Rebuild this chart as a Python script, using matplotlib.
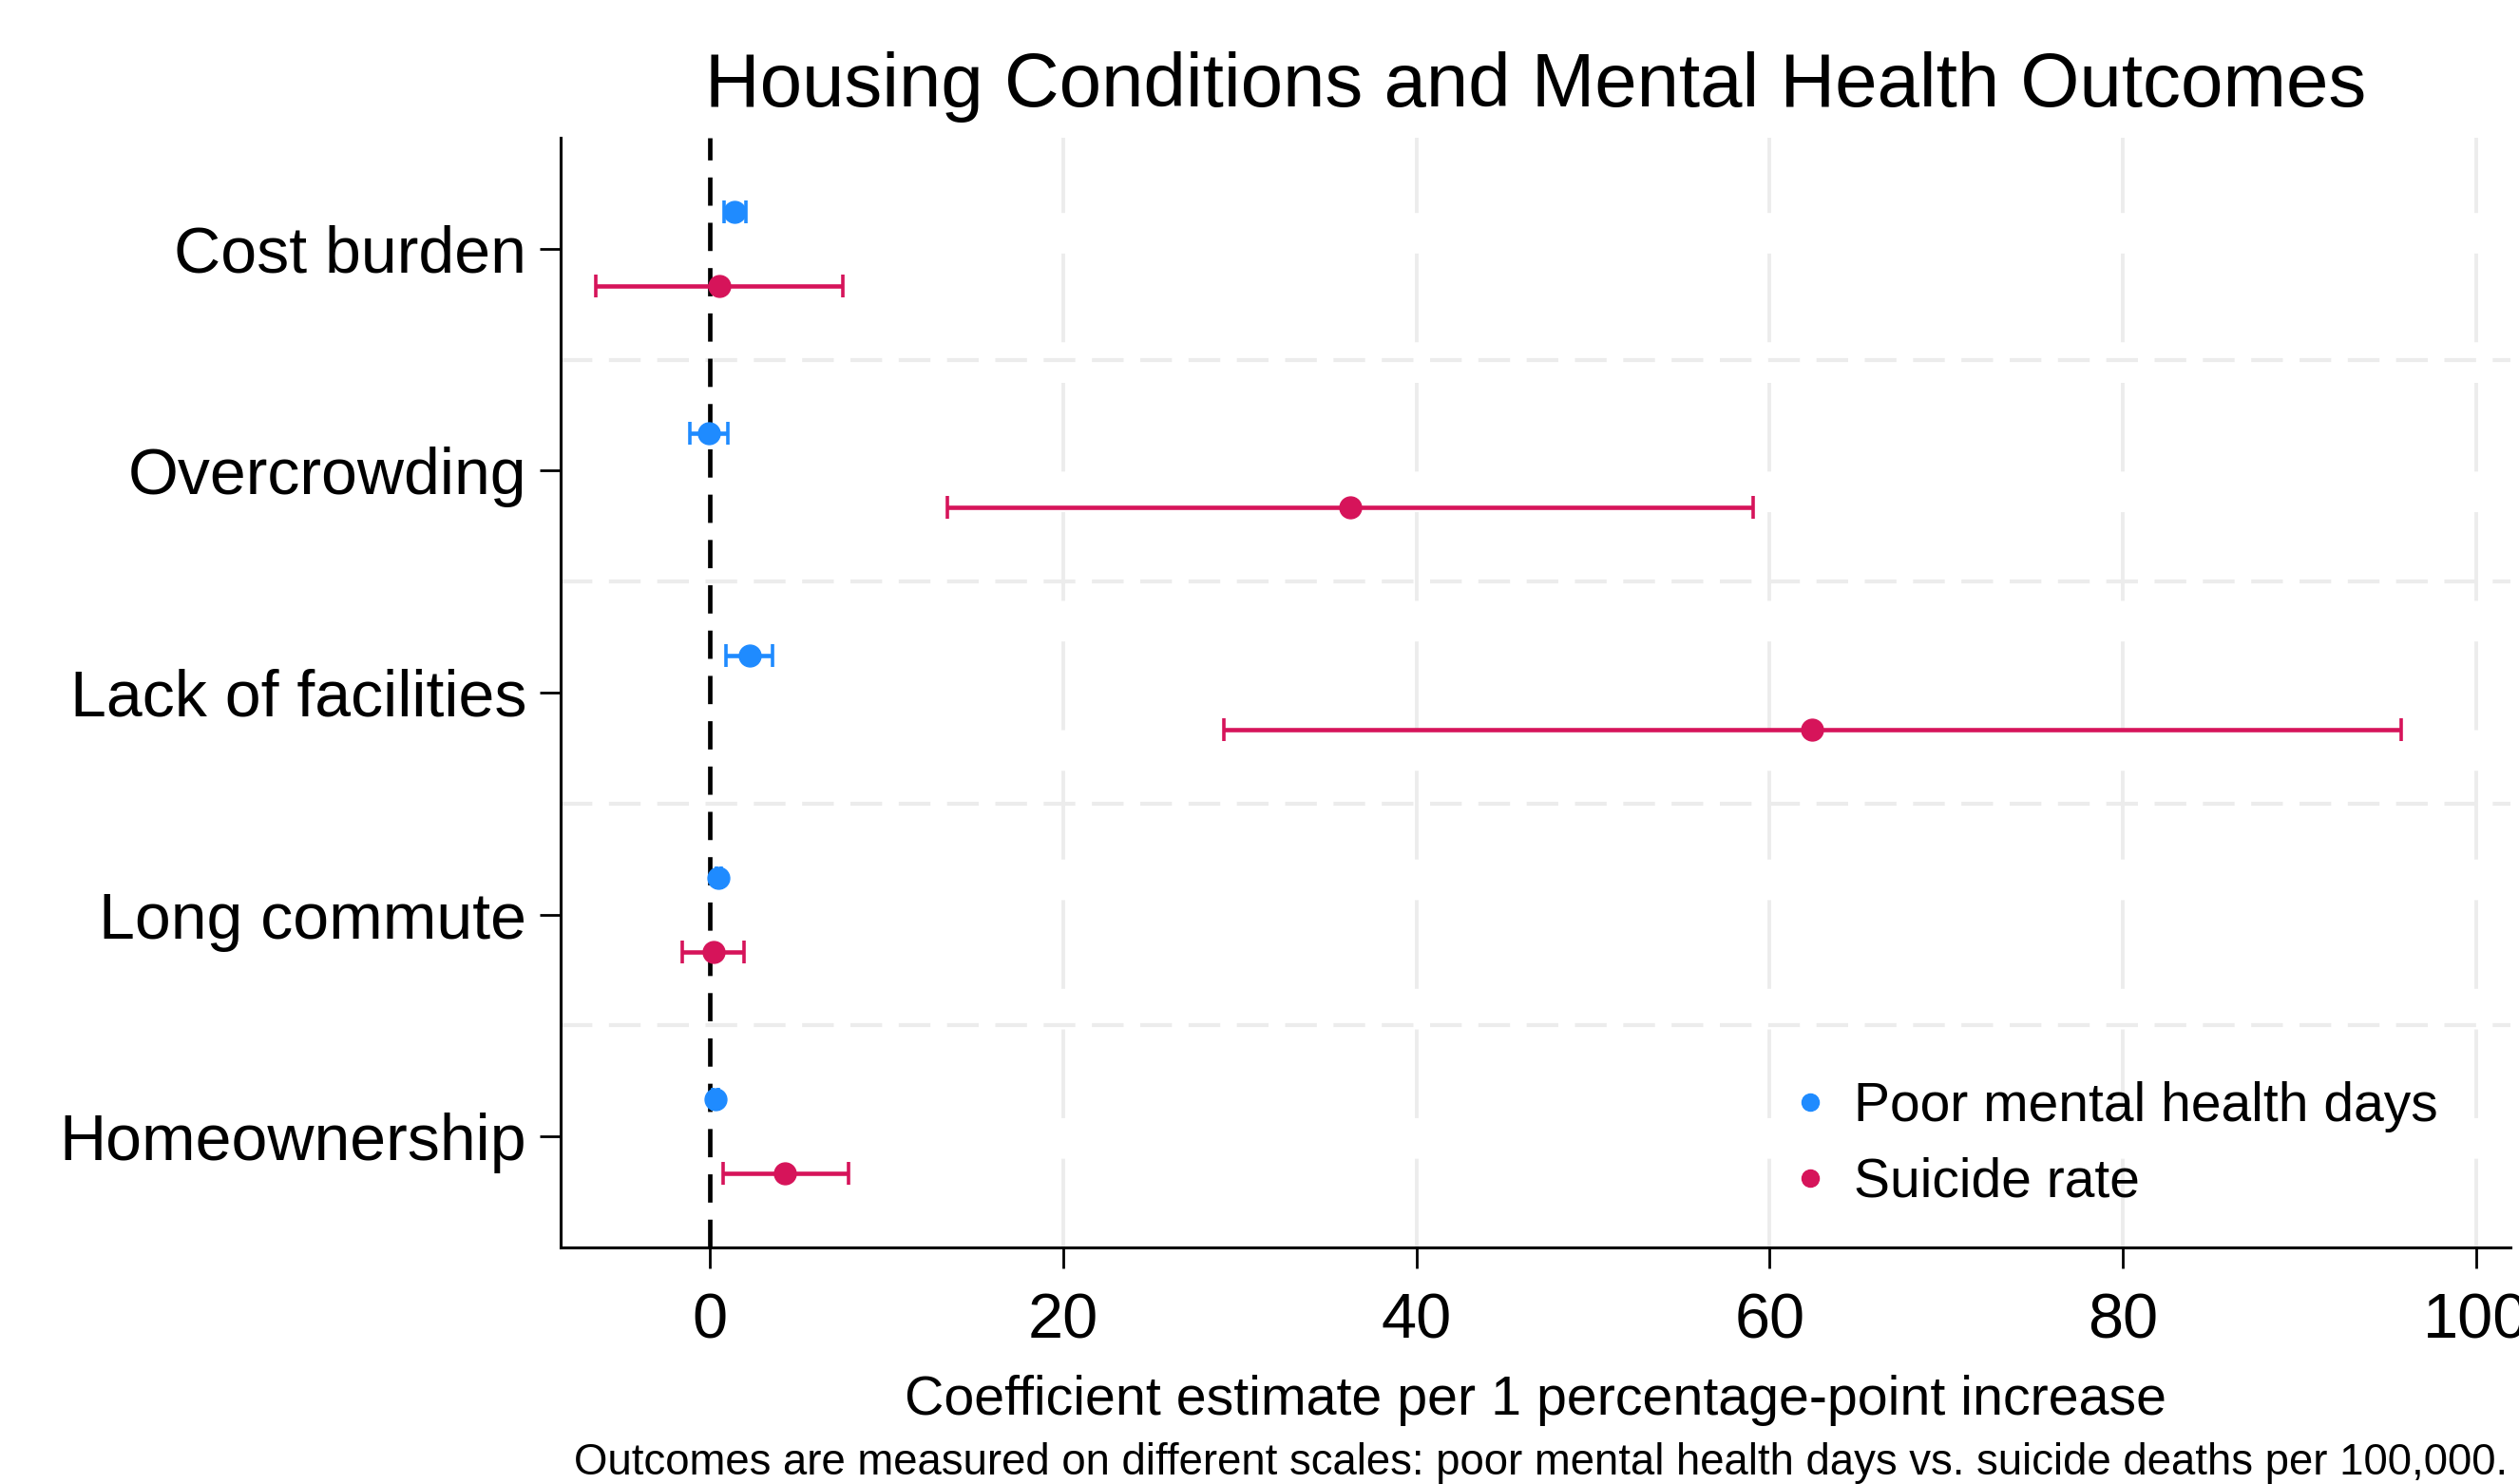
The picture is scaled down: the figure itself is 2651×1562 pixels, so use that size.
import matplotlib
matplotlib.use("Agg")
import matplotlib.pyplot as plt
from matplotlib.lines import Line2D

plt.rcParams['font.family'] = ['Liberation Sans', 'DejaVu Sans']

# Housing predictors, top to bottom
categories = ["Cost burden", "Overcrowding", "Lack of facilities",
              "Long commute", "Homeownership"]

# Poor mental health days: estimate and 95% CI
pmh_est = [1.40, -0.04, 2.24, 0.48, 0.30]
pmh_lo = [0.81, -1.13, 0.89, 0.35, 0.15]
pmh_hi = [2.06, 1.02, 3.55, 0.62, 0.45]

# Suicide rate: estimate and 95% CI
sui_est = [0.54, 36.25, 62.43, 0.18, 4.26]
sui_lo = [-6.44, 13.42, 29.12, -1.58, 0.73]
sui_hi = [7.53, 59.06, 95.75, 1.93, 7.83]

x_ticks = [0, 20, 40, 60, 80, 100]

series_names = ["Poor mental health days", "Suicide rate"]
blue = "#1f8bff"
red = "#d6145a"

AX_L, AX_R, AX_B, AX_T = 0.2226, 0.9966, 0.1594, 0.9072

fig = plt.figure(figsize=(26.51, 15.62), dpi=100)
ax = fig.add_axes([AX_L, AX_B, AX_R - AX_L, AX_T - AX_B])

offset = 0.167
ypos = list(range(len(categories)))


def draw_series(est, lo, hi, shift, color):
    ys = [y + shift for y in ypos]
    err = [[e - l for e, l in zip(est, lo)], [h - e for e, h in zip(est, hi)]]
    ax.errorbar(est, ys, xerr=err, fmt='o', color=color, ecolor=color,
                markersize=16.5, elinewidth=3.3, capsize=8.5, capthick=2.6,
                zorder=5)


# gridlines
for xt in x_ticks[1:]:
    ax.axvline(xt, color="#ececec", lw=2.8, dashes=(24, 11), zorder=0)
for yb in [0.5, 1.5, 2.5, 3.5]:
    ax.axhline(yb, color="#ececec", lw=3.0, dashes=(8, 4.2), zorder=0)

# reference line at zero
ax.axvline(0, color="black", lw=3.4, dashes=(6.3, 3.8), zorder=3)

draw_series(pmh_est, pmh_lo, pmh_hi, -offset, blue)
draw_series(sui_est, sui_lo, sui_hi, offset, red)

ax.set_xlim(-8.45, 101.95)
ax.set_ylim(4.5, -0.5)

ax.set_yticks(ypos)
ax.set_yticklabels(categories, fontsize=49)
ax.set_xticks(x_ticks)
ax.set_xticklabels([str(t) for t in x_ticks], fontsize=48)
ax.tick_params(axis='both', length=16, width=2.0, color='black')
ax.tick_params(axis='y', pad=10)
ax.tick_params(axis='x', pad=18)

for side in ["top", "right"]:
    ax.spines[side].set_visible(False)
for side in ["left", "bottom"]:
    ax.spines[side].set_linewidth(2.2)
    ax.spines[side].set_color("black")

ax.set_xlabel("Coefficient estimate per 1 percentage-point increase",
              fontsize=41.3, labelpad=18)
ax.set_title("Housing Conditions and Mental Health Outcomes", fontsize=57.5,
             pad=24)

handles = [Line2D([], [], marker='o', linestyle='none', color=c,
                  markersize=13)
           for c in (blue, red)]
ax.legend(handles, series_names, loc='lower right', frameon=False,
          fontsize=41, handletextpad=-0.19, labelspacing=0.45,
          borderaxespad=0, bbox_to_anchor=(0.974, 0.016))

fig.text(0.6117, 0.0066,
         "Outcomes are measured on different scales: poor mental health days "
         "vs. suicide deaths per 100,000.",
         ha='center', va='baseline', fontsize=32.8)

fig.savefig("out.png", dpi=100)
